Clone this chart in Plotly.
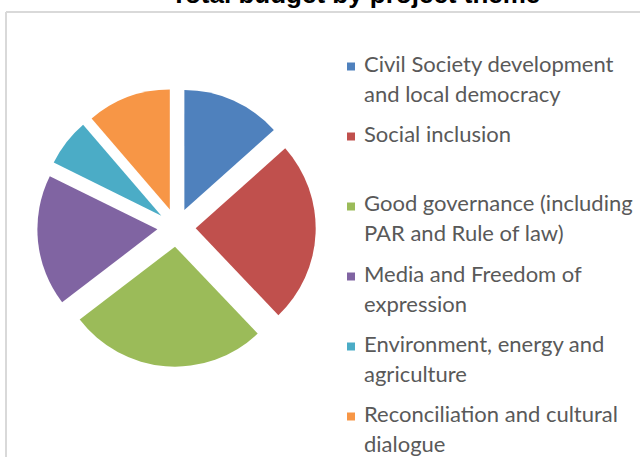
import plotly.graph_objects as go

# Budget share per project theme (%)
labels = [
    "Civil Society development<br>and local democracy",
    "Social inclusion",
    "Good governance (including<br>PAR and Rule of law)",
    "Media and Freedom of<br>expression",
    "Environment, energy and<br>agriculture",
    "Reconciliation and cultural<br>dialogue",
]
shares = [13.4, 24.5, 26.7, 17.7, 6.4, 11.3]
colors = ["#4F81BD", "#C0504D", "#9BBB59", "#8064A2", "#4BACC6", "#F79646"]

W, H = 640, 457


def px(x):
    return x / W


def py(y):
    return 1 - y / H


fig = go.Figure()

fig.add_trace(go.Pie(
    labels=[l.replace("<br>", " ") for l in labels],
    values=shares,
    sort=False,
    direction="clockwise",
    rotation=0,
    pull=[0.16] * len(shares),
    marker=dict(colors=colors, line=dict(width=0)),
    textinfo="none",
    hoverinfo="label+percent",
    showlegend=False,
    domain=dict(x=[px(37.3), px(315.7)], y=[py(366.7), py(88.3)]),
))

# Legend drawn as coloured squares with wrapped labels
shapes = []
annotations = []
item_top = 66
item_pitch = 70
line_gap = 30
for i, (lab, col) in enumerate(zip(labels, colors)):
    y0 = item_top + i * item_pitch
    shapes.append(dict(
        type="rect", xref="paper", yref="paper",
        x0=px(347), x1=px(355), y0=py(y0 - 3.5), y1=py(y0 + 4.5),
        fillcolor=col, line=dict(width=0),
    ))
    for j, line in enumerate(lab.split("<br>")):
        annotations.append(dict(
            text=line, xref="paper", yref="paper",
            x=px(362), y=py(y0 - 3 + j * line_gap),
            xanchor="left", yanchor="middle", showarrow=False,
            font=dict(family="Lato", size=22, color="#595959"),
        ))

# Chart frame edges
shapes.append(dict(type="line", xref="paper", yref="paper",
                   x0=px(6), x1=px(W + 5), y0=py(12), y1=py(12),
                   line=dict(color="#d9d9d9", width=2)))
shapes.append(dict(type="line", xref="paper", yref="paper",
                   x0=px(6), x1=px(6), y0=py(12), y1=py(H + 5),
                   line=dict(color="#d9d9d9", width=2)))

annotations.append(dict(
    text="<b>Total budget by project theme</b>", xref="paper", yref="paper",
    x=px(355), y=py(11), xanchor="center", yanchor="bottom", showarrow=False,
    font=dict(family="Liberation Sans", size=26, color="#000000"),
))

fig.update_layout(
    width=W, height=H,
    margin=dict(l=0, r=0, t=0, b=0),
    paper_bgcolor="white",
    plot_bgcolor="white",
    shapes=shapes,
    annotations=annotations,
)

fig.write_html("out.html")
